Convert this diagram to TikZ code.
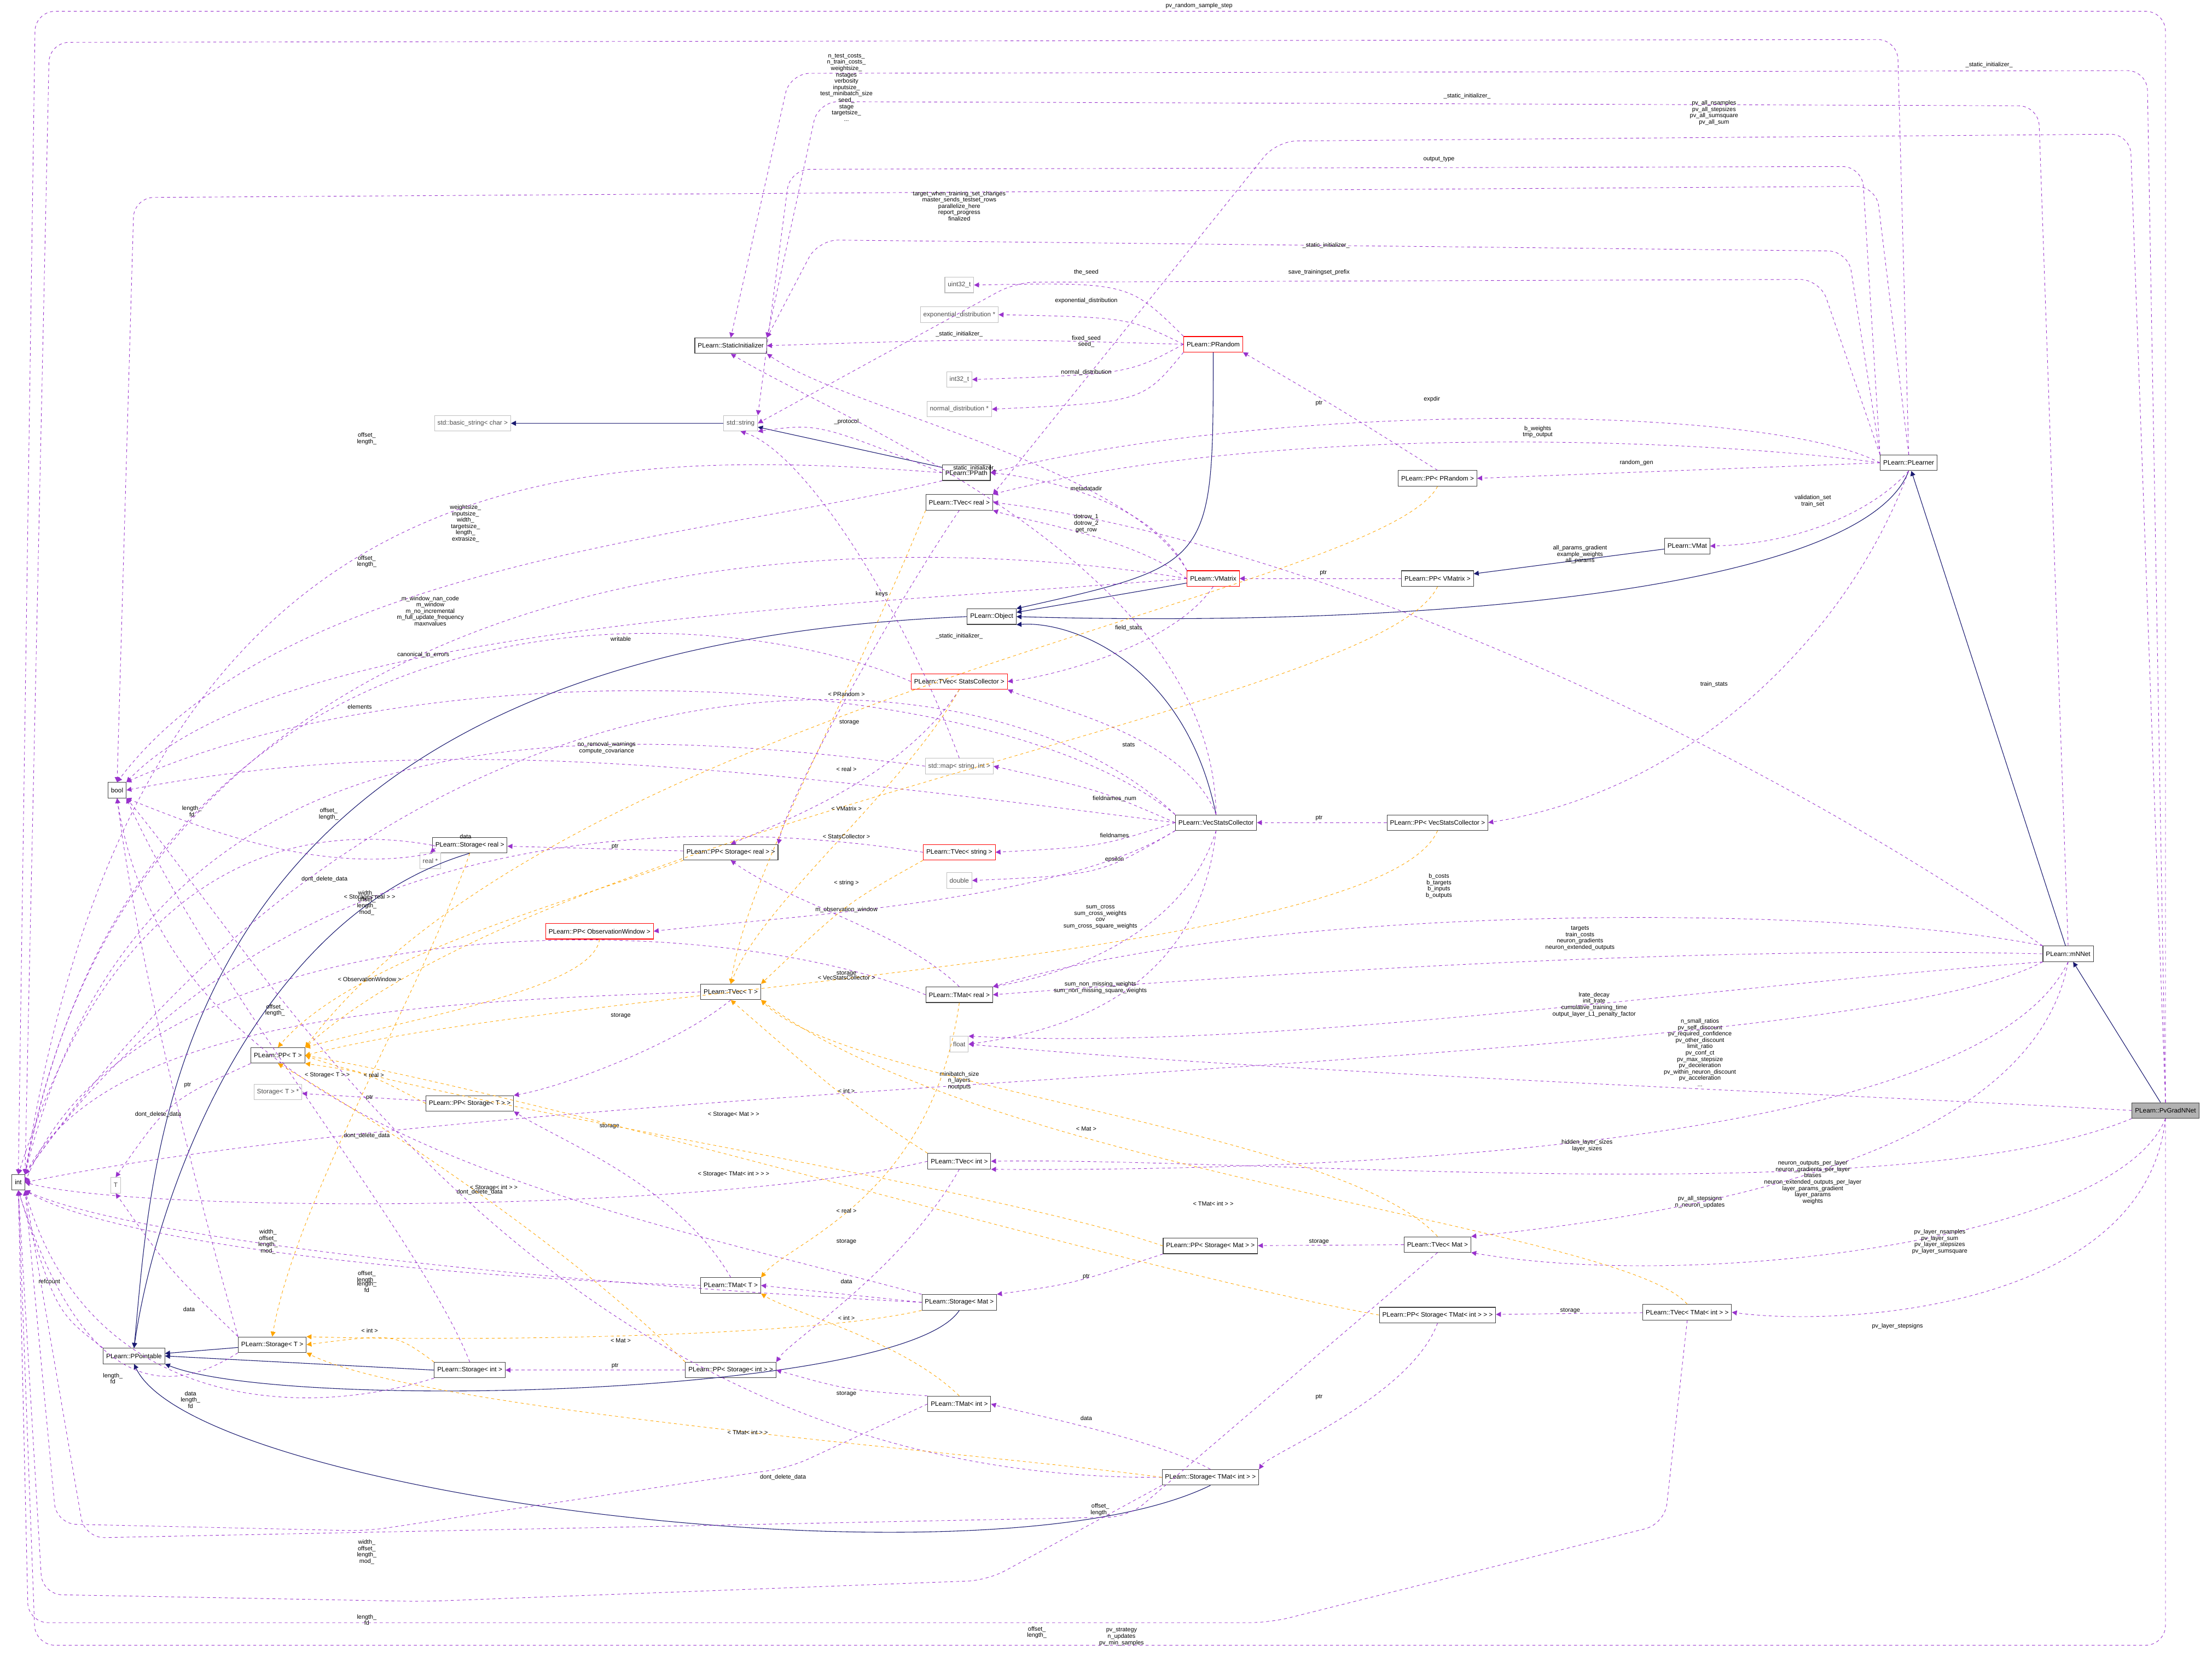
\documentclass[tikz,border=0pt]{standalone}
\usepackage{fontspec}
\setmainfont{Liberation Sans}
\usetikzlibrary{arrows.meta}
\definecolor{inh}{RGB}{25,25,112}
\definecolor{use}{RGB}{153,50,204}
\definecolor{tpl}{RGB}{255,165,0}
\tikzset{
 cls/.style={draw=black!75,line width=0.6pt,fill=white,font=\fontsize{6.5}{7}\selectfont,inner xsep=3pt,inner ysep=0pt,minimum height=0.55cm},
 red/.style={cls,draw=red},
 gry/.style={cls,draw=black!25,text=black!70},
 hl/.style={cls,fill=black!30},
 ih/.style={draw=inh,line width=0.6pt,-{Triangle[length=5pt,width=5pt]}},
 us/.style={draw=use,line width=0.5pt,dashed,dash pattern=on 3pt off 3pt,-{Triangle[length=5pt,width=5pt]}},
 tp/.style={draw=tpl,line width=0.5pt,dashed,dash pattern=on 3pt off 3pt,-{Triangle[length=5pt,width=5pt]}},
 rc/.style={rounded corners=20pt},
 lb/.style={font=\fontsize{6}{6.4}\selectfont,align=center,inner sep=0pt},
}
\begin{document}
\begin{tikzpicture}[x=0.05cm,y=-0.05cm]
\useasboundingbox (0,0) rectangle (1568,1174);
% nodes
\node[hl] (pv) at (1535,787) {PLearn::PvGradNNet};
\node[cls] (mn) at (1466,676) {PLearn::mNNet};
\node[cls] (pl) at (1353,328) {PLearn::PLearner};
\node[cls] (vmat) at (1196,387) {PLearn::VMat};
\node[cls] (ppvm) at (1019,410) {PLearn::PP< VMatrix >};
\node[cls] (ppr) at (1019,339) {PLearn::PP< PRandom >};
\node[red] (vm) at (860,410) {PLearn::VMatrix};
\node[red] (pr) at (860,244) {PLearn::PRandom};
\node[cls] (obj) at (703,437) {PLearn::Object};
\node[cls] (pp) at (685,335) {PLearn::PPath};
\node[cls] (tvr) at (680,356) {PLearn::TVec< real >};
\node[gry] (str) at (525,300) {std::string};
\node[gry] (bstr) at (335,300) {std::basic\_string< char >};
\node[cls] (si) at (518,245) {PLearn::StaticInitializer};
\node[gry] (u32) at (680,202) {uint32\_t};
\node[gry] (ed) at (680,223) {exponential\_distribution *};
\node[gry] (i32) at (680,269) {int32\_t};
\node[gry] (nd) at (680,290) {normal\_distribution *};
\node[red] (tvsc) at (680,483) {PLearn::TVec< StatsCollector >};
\node[gry] (map) at (680,543) {std::map< string, int >};
\node[cls] (vsc) at (862,583) {PLearn::VecStatsCollector};
\node[cls] (ppvsc) at (1019,583) {PLearn::PP< VecStatsCollector >};
\node[red] (tvs) at (680,604) {PLearn::TVec< string >};
\node[gry] (dbl) at (680,624) {double};
\node[cls] (ppsr) at (518,604) {PLearn::PP< Storage< real > >};
\node[cls] (sr) at (333,599) {PLearn::Storage< real >};
\node[gry] (rs) at (305,610) {real *};
\node[red] (ppow) at (425,660) {PLearn::PP< ObservationWindow >};
\node[cls] (tvt) at (518,703) {PLearn::TVec< T >};
\node[cls] (tmr) at (680,705) {PLearn::TMat< real >};
\node[gry] (flt) at (680,740) {float};
\node[cls] (ppt) at (197,748) {PLearn::PP< T >};
\node[gry] (stp) at (197,774) {Storage< T > *};
\node[cls] (ppst) at (333,782) {PLearn::PP< Storage< T > >};
\node[cls] (tvi) at (680,823) {PLearn::TVec< int >};
\node[gry] (T) at (82,840) {T};
\node[cls] (int) at (13,838) {int};
\node[cls] (bool) at (83,560) {bool};
\node[cls] (ppsm) at (858,883) {PLearn::PP< Storage< Mat > >};
\node[cls] (tvm) at (1019,882) {PLearn::TVec< Mat >};
\node[cls] (tmt) at (518,911) {PLearn::TMat< T >};
\node[cls] (sm) at (680,923) {PLearn::Storage< Mat >};
\node[cls] (ppstm) at (1019,932) {PLearn::PP< Storage< TMat< int > > >};
\node[cls] (tvtm) at (1196,930) {PLearn::TVec< TMat< int > >};
\node[cls] (ppt0) at (95,961) {PLearn::PPointable};
\node[cls] (st) at (193,953) {PLearn::Storage< T >};
\node[cls] (si2) at (333,971) {PLearn::Storage< int >};
\node[cls] (ppsi) at (518,971) {PLearn::PP< Storage< int > >};
\node[cls] (tmi) at (680,995) {PLearn::TMat< int >};
\node[cls] (stm) at (858,1047) {PLearn::Storage< TMat< int > >};

% inheritance
\draw[ih] (pv) -- (mn);
\draw[ih] (mn) -- (pl);
\draw[ih] (pl.south) .. controls (1320,420) and (1000,445) .. (obj.east);
\draw[ih] (vm) -- (obj);
\draw[ih] (pr.south) .. controls (860,400) .. (obj.north east);
\draw[ih] (pp) -- (str);
\draw[ih] (str) -- (bstr);
\draw[ih] (vsc.north) .. controls (840,470) and (760,440) .. (obj.south east);
\draw[ih] (vmat) -- (ppvm);
\draw[ih] (obj.west) .. controls (120,460) and (110,800) .. (ppt0.north);
\draw[ih] (sr.south) .. controls (180,650) and (110,850) .. (ppt0.north);
\draw[ih] (st) -- (ppt0);
\draw[ih] (si2.west) -- (ppt0.east);
\draw[ih] (sm.south) .. controls (640,990) and (200,1000) .. (ppt0.south east);
\draw[ih] (stm.south) .. controls (700,1130) and (140,1060) .. (ppt0.south);

% usage
\draw[us,rc] (pv.north) -- (1535,8) -- (25,8) -- (int.north);
\draw[us,rc] (pv.south) -- (1535,1166) -- (25,1166) -- (int.south);
\node[lb] at (850,4) {pv\_random\_sample\_step};
\node[lb] at (795,1160) {pv\_strategy\\n\_updates\\pv\_min\_samples};
\draw[us,rc] (pv.north) -- (1522,50) -- (560,52) -- (si.north);
\node[lb] at (1410,46) {\_static\_initializer\_};
\draw[us,rc] (pv.north) -- (1510,95) -- (905,100) -- (tvr.north east);
\node[lb] at (1215,80) {pv\_all\_nsamples\\pv\_all\_stepsizes\\pv\_all\_sumsquare\\pv\_all\_sum};
\draw[us] (pv.west) .. controls (1300,775) and (900,760) .. (flt.east);
\node[lb] at (1205,746) {n\_small\_ratios\\pv\_self\_discount\\pv\_required\_confidence\\pv\_other\_discount\\limit\_ratio\\pv\_conf\_ct\\pv\_max\_stepsize\\pv\_deceleration\\pv\_within\_neuron\_discount\\pv\_acceleration\\...};
\draw[us] (pv.south west) .. controls (1350,860) and (900,820) .. (tvi.east);
\node[lb] at (1205,852) {pv\_all\_stepsigns\\n\_neuron\_updates};
\draw[us] (pv.south) .. controls (1500,880) and (1200,915) .. (tvm.south east);
\node[lb] at (1375,880) {pv\_layer\_nsamples\\pv\_layer\_sum\\pv\_layer\_stepsizes\\pv\_layer\_sumsquare};
\draw[us] (pv.south) .. controls (1520,930) and (1300,940) .. (tvtm.east);
\node[lb] at (1345,940) {pv\_layer\_stepsigns};

\draw[us] (mn.north west) .. controls (1200,500) and (900,380) .. (tvr.east);
\node[lb] at (1120,393) {all\_params\_gradient\\example\_weights\\all\_params};
\draw[us,rc] (mn.north) -- (1445,75) -- (580,72) -- (si.north east);
\node[lb] at (1040,68) {\_static\_initializer\_};
\draw[us] (mn.west) .. controls (1200,670) and (900,690) .. (tmr.east);
\node[lb] at (1120,665) {targets\\train\_costs\\neuron\_gradients\\neuron\_extended\_outputs};
\draw[us] (mn.north west) .. controls (1300,640) and (900,640) .. (tmr.north east);
\node[lb] at (1020,628) {b\_costs\\b\_targets\\b\_inputs\\b\_outputs};
\draw[us] (mn.south west) .. controls (1200,700) and (900,745) .. (flt.north east);
\node[lb] at (1130,712) {lrate\_decay\\init\_lrate\\cumulative\_training\_time\\output\_layer\_L1\_penalty\_factor};
\draw[us] (mn.south) .. controls (1400,820) and (900,830) .. (tvi.south east);
\node[lb] at (1125,812) {hidden\_layer\_sizes\\layer\_sizes};
\draw[us] (mn.south) .. controls (1440,820) and (1200,860) .. (tvm.north east);
\node[lb] at (1285,838) {neuron\_outputs\_per\_layer\\neuron\_gradients\_per\_layer\\biases\\neuron\_extended\_outputs\_per\_layer\\layer\_params\_gradient\\layer\_params\\weights};
\draw[us] (mn.south west) .. controls (1300,760) and (400,760) .. (int.east);
\node[lb] at (680,766) {minibatch\_size\\n\_layers\\noutputs};

\draw[us,rc] (pl.north) -- (1345,28) -- (35,30) -- (int.north east);
\node[lb] at (600,62) {n\_test\_costs\_\\n\_train\_costs\_\\weightsize\_\\nstages\\verbosity\\inputsize\_\\test\_minibatch\_size\\seed\_\\stage\\targetsize\_\\...};
\draw[us,rc] (pl.north) -- (1330,132) -- (95,140) -- (bool.north);
\node[lb] at (680,146) {target\_when\_training\_set\_changes\\master\_sends\_testset\_rows\\parallelize\_here\\report\_progress\\finalized};
\draw[us,rc] (pl.north west) -- (1310,178) -- (580,170) -- (si.north east);
\node[lb] at (940,174) {\_static\_initializer\_};
\draw[us,rc] (pl.north west) -- (1320,118) -- (560,120) -- (str.north east);
\node[lb] at (1020,113) {output\_type};
\draw[us,rc] (pl.north west) -- (1290,198) -- (720,200) -- (str.east);
\node[lb] at (935,193) {save\_trainingset\_prefix};
\draw[us] (pl.west) .. controls (1250,285) and (900,285) .. (pp.east);
\node[lb] at (1015,283) {expdir};
\draw[us] (pl.west) .. controls (1200,310) and (900,300) .. (tvr.north east);
\node[lb] at (1090,306) {b\_weights\\tmp\_output};
\draw[us] (pl.west) -- (ppr.east);
\node[lb] at (1160,328) {random\_gen};
\draw[us] (pl.south) .. controls (1330,360) and (1280,385) .. (vmat.east);
\node[lb] at (1285,355) {validation\_set\\train\_set};
\draw[us] (pl.south) .. controls (1310,450) and (1200,560) .. (ppvsc.east);
\node[lb] at (1215,485) {train\_stats};

\draw[us] (pr.north west) .. controls (800,200) .. (u32.east);
\node[lb] at (770,193) {the\_seed};
\draw[us] (pr.west) .. controls (800,225) .. (ed.east);
\node[lb] at (770,213) {exponential\_distribution};
\draw[us] (pr.west) .. controls (800,265) .. (i32.east);
\node[lb] at (770,242) {fixed\_seed\\seed\_};
\draw[us] (pr.south west) .. controls (810,285) .. (nd.east);
\node[lb] at (770,264) {normal\_distribution};
\draw[us] (pr.west) .. controls (700,240) .. (si.east);
\node[lb] at (680,237) {\_static\_initializer\_};
\draw[us] (ppr.north) .. controls (950,290) .. (pr.south east);
\node[lb] at (935,286) {ptr};
\draw[us] (ppvm) -- (vm);
\node[lb] at (938,406) {ptr};
\draw[us] (ppvsc) -- (vsc);
\node[lb] at (935,580) {ptr};

\draw[us] (vm.north west) .. controls (820,360) and (750,340) .. (pp.east);
\node[lb] at (770,346) {metadatadir};
\draw[us] (vm.west) .. controls (800,380) and (730,370) .. (tvr.south east);
\node[lb] at (770,371) {dotrow\_1\\dotrow\_2\\get\_row};
\draw[us] (vm.west) .. controls (600,370) and (100,380) .. (int.north east);
\node[lb] at (330,371) {weightsize\_\\inputsize\_\\width\_\\targetsize\_\\length\_\\extrasize\_};
\draw[us] (vm.south) .. controls (830,460) and (740,480) .. (tvsc.east);
\node[lb] at (800,445) {field\_stats};
\draw[us] (vm.north west) .. controls (800,330) and (600,290) .. (si.south east);
\node[lb] at (690,332) {\_static\_initializer\_};
\draw[us] (vm.west) .. controls (600,430) and (200,440) .. (bool.north east);
\node[lb] at (440,453) {writable};
\draw[us] (pp.west) .. controls (580,300) .. (str.south east);
\node[lb] at (600,299) {\_protocol};
\draw[us] (pp.west) .. controls (400,315) and (100,320) .. (int.north east);
\node[lb] at (260,311) {offset\_\\length\_};
\draw[us] (pp.south west) .. controls (500,380) and (200,400) .. (bool.north);
\draw[us] (tvr.south) .. controls (640,420) and (560,560) .. (ppsr.north east);
\node[lb] at (602,512) {storage};
\draw[us] (tvsc.west) .. controls (500,420) and (100,400) .. (int.north east);
\node[lb] at (260,398) {offset\_\\length\_};
\draw[us] (tvsc.south) .. controls (640,550) and (560,580) .. (ppsr.north);
\draw[us] (map.north) .. controls (640,430) and (570,320) .. (str.south);
\node[lb] at (625,421) {keys};
\draw[us] (map.west) .. controls (400,510) and (100,500) .. (int.north east);
\node[lb] at (255,501) {elements};
\draw[us] (vsc.north west) .. controls (700,450) and (300,430) .. (int.north east);
\node[lb] at (305,433) {m\_window\_nan\_code\\m\_window\\m\_no\_incremental\\m\_full\_update\_frequency\\maxnvalues};
\draw[us] (vsc.north west) .. controls (700,470) and (300,460) .. (bool.north east);
\node[lb] at (300,464) {canonical\_in\_errors};
\draw[us] (vsc.west) .. controls (500,540) and (300,520) .. (bool.east);
\node[lb] at (430,530) {no\_removal\_warnings\\compute\_covariance};
\draw[us] (vsc.north) .. controls (840,520) and (740,500) .. (tvsc.south east);
\node[lb] at (800,528) {stats};
\draw[us] (vsc.west) .. controls (780,560) .. (map.east);
\node[lb] at (790,566) {fieldnames\_num};
\draw[us] (vsc.west) .. controls (780,600) .. (tvs.east);
\node[lb] at (790,592) {fieldnames};
\draw[us] (vsc.south west) .. controls (780,620) .. (dbl.east);
\node[lb] at (790,609) {epsilon};
\draw[us] (vsc.south west) .. controls (750,640) and (550,650) .. (ppow.east);
\node[lb] at (600,645) {m\_observation\_window};
\draw[us] (vsc.south) .. controls (840,660) and (760,690) .. (tmr.north east);
\node[lb] at (780,650) {sum\_cross\\sum\_cross\_weights\\cov\\sum\_cross\_square\_weights};
\draw[us] (vsc.south) .. controls (850,700) and (760,730) .. (flt.east);
\node[lb] at (780,700) {sum\_non\_missing\_weights\\sum\_non\_missing\_square\_weights};
\draw[us] (vsc.north) .. controls (860,400) and (600,300) .. (si.south);
\node[lb] at (680,451) {\_static\_initializer\_};
\draw[us] (tvs.west) .. controls (500,580) and (200,570) .. (int.north east);
\node[lb] at (233,577) {offset\_\\length\_};
\draw[us] (sr.west) .. controls (200,580) and (80,620) .. (int.north);
\node[lb] at (136,575) {length\_\\fd};
\draw[us] (sr.west) .. controls (310,600) .. (rs.north);
\node[lb] at (330,593) {data};
\draw[us] (sr.south west) .. controls (230,620) and (150,590) .. (bool.south east);
\node[lb] at (230,623) {dont\_delete\_data};
\draw[us] (ppsr) -- (sr);
\node[lb] at (436,600) {ptr};
\draw[us] (tmr.west) .. controls (500,640) and (100,640) .. (int.east);
\node[lb] at (260,640) {width\_\\offset\_\\length\_\\mod\_};
\draw[us] (tmr.north) .. controls (640,660) and (560,640) .. (ppsr.south);
\node[lb] at (600,690) {storage};
\draw[us] (tvt.west) .. controls (300,710) and (80,720) .. (int.north east);
\node[lb] at (195,716) {offset\_\\length\_};
\draw[us] (tvt.south) .. controls (480,740) and (400,770) .. (ppst.north east);
\node[lb] at (440,720) {storage};
\draw[us] (ppt.south west) .. controls (120,780) .. (T.north);
\node[lb] at (133,769) {ptr};
\draw[us] (ppst) -- (stp);
\node[lb] at (262,778) {ptr};
\draw[us] (tvi.west) .. controls (500,860) and (100,860) .. (int.east);
\node[lb] at (260,905) {offset\_\\length\_};
\draw[us] (tvi.south) .. controls (640,900) and (560,950) .. (ppsi.north east);
\node[lb] at (600,880) {storage};
\draw[us] (tmt.west) .. controls (300,905) and (80,880) .. (int.south east);
\node[lb] at (190,880) {width\_\\offset\_\\length\_\\mod\_};
\draw[us] (tmt.north) .. controls (480,840) and (400,810) .. (ppst.south east);
\node[lb] at (432,798) {storage};
\draw[us] (sm.west) .. controls (400,910) and (100,880) .. (int.south east);
\node[lb] at (260,912) {length\_\\fd};
\draw[us] (sm.west) -- (tmt.east);
\node[lb] at (600,908) {data};
\draw[us] (sm.north west) .. controls (400,850) and (120,800) .. (bool.south);
\node[lb] at (340,845) {dont\_delete\_data};
\draw[us] (ppsm.south west) .. controls (760,910) .. (sm.north east);
\node[lb] at (770,905) {ptr};
\draw[us] (tvm) -- (ppsm);
\node[lb] at (935,880) {storage};
\draw[us,rc] (tvm.south) -- (800,1075) -- (60,1090) -- (int.south east);
\node[lb] at (780,1070) {offset\_\\length\_};
\draw[us] (st.south west) .. controls (120,990) and (60,990) .. (int.south);
\node[lb] at (80,977) {length\_\\fd};
\draw[us] (st.north west) .. controls (120,900) .. (T.south);
\node[lb] at (134,928) {data};
\draw[us] (st.north west) .. controls (150,880) and (100,700) .. (bool.south);
\node[lb] at (112,790) {dont\_delete\_data};
\draw[us] (ppt0.north west) .. controls (40,930) .. (int.south);
\node[lb] at (35,908) {refcount};
\draw[us] (si2.south west) .. controls (200,1010) and (60,990) .. (int.south east);
\node[lb] at (135,992) {data\\length\_\\fd};
\draw[us] (si2.north) .. controls (300,880) and (150,700) .. (bool.south east);
\node[lb] at (260,805) {dont\_delete\_data};
\draw[us] (ppsi) -- (si2);
\node[lb] at (436,968) {ptr};
\draw[us,rc] (tmi.west) -- (560,1040) -- (260,1085) -- (40,1080) -- (int.south east);
\node[lb] at (260,1100) {width\_\\offset\_\\length\_\\mod\_};
\draw[us] (tmi.north west) .. controls (600,985) .. (ppsi.east);
\node[lb] at (600,988) {storage};
\draw[us] (stm.north) .. controls (820,1020) and (720,1000) .. (tmi.east);
\node[lb] at (770,1005) {data};
\draw[us] (stm.west) .. controls (400,1050) and (200,700) .. (bool.south east);
\node[lb] at (555,1047) {dont\_delete\_data};
\draw[us,rc] (stm.south west) -- (700,1120) -- (300,1135) -- (30,1130) -- (int.south);
\node[lb] at (260,1148) {length\_\\fd};
\draw[us] (ppstm.south) .. controls (1000,990) and (900,1030) .. (stm.north east);
\node[lb] at (935,990) {ptr};
\draw[us] (tvtm) -- (ppstm);
\node[lb] at (1113,929) {storage};
\draw[us,rc] (tvtm.south) -- (1180,1080) -- (900,1150) -- (20,1150) -- (int.south);
\node[lb] at (735,1157) {offset\_\\length\_};

% template instances
\draw[tp] (ppr.south) .. controls (980,420) and (400,500) .. (ppt.north east);
\node[lb] at (600,492) {< PRandom >};
\draw[tp] (ppvm.south) .. controls (980,500) and (400,580) .. (ppt.north east);
\node[lb] at (600,573) {< VMatrix >};
\draw[tp] (ppvsc.south) .. controls (980,680) and (400,700) .. (ppt.east);
\node[lb] at (600,693) {< VecStatsCollector >};
\draw[tp] (ppsr.south west) .. controls (400,640) and (250,680) .. (ppt.north);
\node[lb] at (262,636) {< Storage< real > >};
\draw[tp] (ppow.south) .. controls (420,700) and (300,720) .. (ppt.north east);
\node[lb] at (262,694) {< ObservationWindow >};
\draw[tp] (ppst.west) .. controls (260,760) .. (ppt.south east);
\node[lb] at (232,762) {< Storage< T > >};
\draw[tp] (ppsm.west) .. controls (700,840) and (300,780) .. (ppt.east);
\node[lb] at (520,790) {< Storage< Mat > >};
\draw[tp] (ppstm.west) .. controls (800,900) and (400,780) .. (ppt.east);
\node[lb] at (520,832) {< Storage< TMat< int > > >};
\draw[tp] (ppsi.north west) .. controls (400,880) and (260,790) .. (ppt.south);
\node[lb] at (350,842) {< Storage< int > >};
\draw[tp] (tvr.south west) .. controls (600,500) and (530,620) .. (tvt.north);
\node[lb] at (600,545) {< real >};
\draw[tp] (tvsc.south) .. controls (640,560) and (540,640) .. (tvt.north);
\node[lb] at (600,593) {< StatsCollector >};
\draw[tp] (tvs.south west) .. controls (600,640) .. (tvt.north east);
\node[lb] at (600,626) {< string >};
\draw[tp] (tvi.north west) .. controls (600,780) .. (tvt.south);
\node[lb] at (600,773) {< int >};
\draw[tp] (tvm.north) .. controls (950,800) and (600,770) .. (tvt.south east);
\node[lb] at (770,800) {< Mat >};
\draw[tp] (tvtm.north) .. controls (1150,870) and (700,830) .. (tvt.south east);
\node[lb] at (860,853) {< TMat< int > >};
\draw[tp] (tmr.south) .. controls (660,850) and (560,880) .. (tmt.north east);
\node[lb] at (600,858) {< real >};
\draw[tp] (tmi.north) .. controls (640,950) and (560,930) .. (tmt.south east);
\node[lb] at (600,934) {< int >};
\draw[tp] (sr.south) .. controls (300,700) and (210,850) .. (st.north);
\node[lb] at (265,762) {< real >};
\draw[tp] (si2.north west) .. controls (280,945) .. (st.east);
\node[lb] at (262,943) {< int >};
\draw[tp] (sm.south west) .. controls (560,950) and (300,950) .. (st.north east);
\node[lb] at (440,950) {< Mat >};
\draw[tp] (stm.west) .. controls (700,1030) and (300,1000) .. (st.south east);
\node[lb] at (530,1015) {< TMat< int > >};
\end{tikzpicture}
\end{document}
